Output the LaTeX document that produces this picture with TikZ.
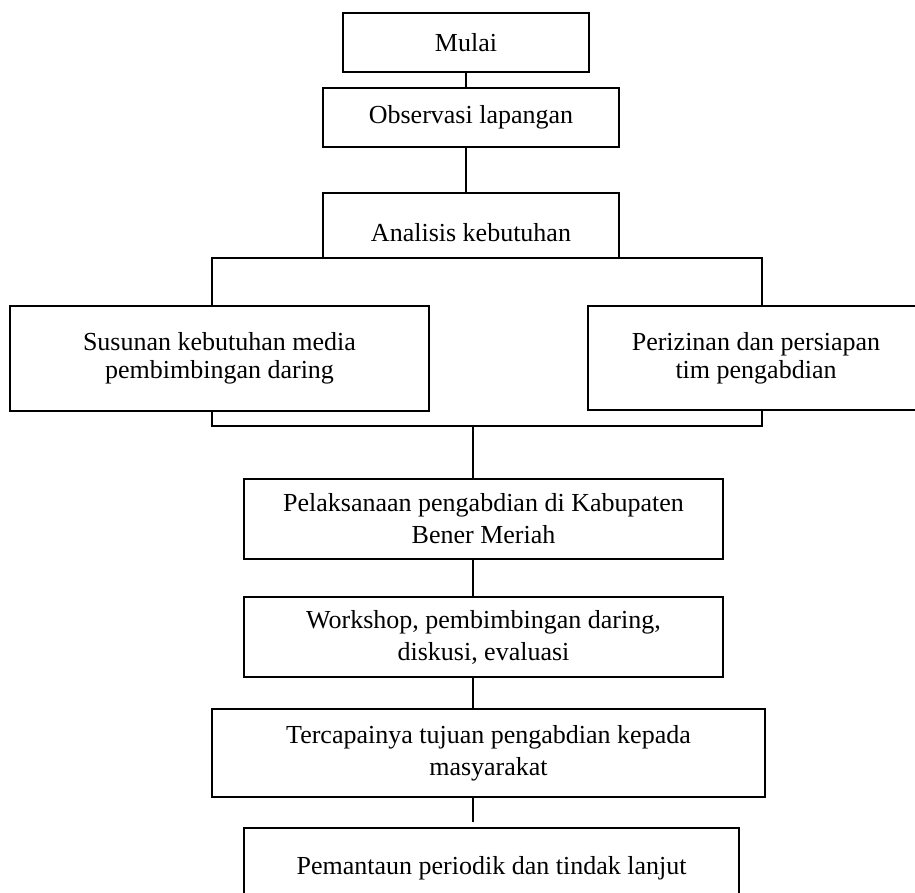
\documentclass[tikz,border=0pt]{standalone}
\usepackage{fontspec}
\setmainfont{Liberation Serif}
\usetikzlibrary{positioning}

\begin{document}
\begin{tikzpicture}[x=0.5pt, y=-0.5pt,
    kotak/.style = {shape = rectangle, draw = black, line width = 0.8pt, align = center, inner sep = 0pt,
                    font = \fontsize{13}{16}\selectfont},
    rapat/.style = {font = \fontsize{13}{14}\selectfont},
    garis/.style = {draw = black, line width = 0.7pt}]
    \useasboundingbox (0, 0) rectangle (915, 893);

    \node [kotak, minimum width = 123pt, minimum height = 29.5pt] (mulai) at (466, 42.5) {Mulai};
    \node [kotak, minimum width = 148pt, minimum height = 29.5pt] (observasi) at (471, 117.5) {Observasi lapangan};
    \node [kotak, minimum width = 148pt, minimum height = 32.5pt, text height = 16pt] (analisis) at (471, 225.5) {Analisis kebutuhan};
    \node [kotak, rapat, minimum width = 209.5pt, minimum height = 52.5pt] (susunan) at (219.5, 358.5) {Susunan kebutuhan media\\pembimbingan daring};
    \node [kotak, rapat, minimum width = 168pt, minimum height = 52pt] (perizinan) at (756, 358) {Perizinan dan persiapan\\tim pengabdian};
    \node [kotak, minimum width = 239.5pt, minimum height = 40pt] (pelaksanaan) at (483.5, 519) {Pelaksanaan pengabdian di Kabupaten\\Bener Meriah};
    \node [kotak, minimum width = 239.5pt, minimum height = 40pt] (workshop) at (483.5, 637) {Workshop, pembimbingan daring,\\diskusi, evaluasi};
    \node [kotak, minimum width = 276.5pt, minimum height = 44pt] (tercapai) at (488.5, 753) {Tercapainya tujuan pengabdian kepada\\masyarakat};
    \node [kotak, minimum width = 247.5pt, minimum height = 40pt] (pemantauan) at (491.5, 868) {Pemantaun periodik dan tindak lanjut};

    \coordinate (kiri) at (212, 258);
    \coordinate (kanan) at (762, 258);
    \coordinate (kiribawah) at (212, 426);
    \coordinate (kananbawah) at (762, 426);
    \coordinate (tengah) at (473, 426);

    \draw [garis] (mulai.south) -- (mulai.south |- observasi.north);
    \draw [garis] (observasi.south -| mulai.south) -- (mulai.south |- analisis.north);
    \draw [garis] (susunan.north -| kiri) -- (kiri) -- (kanan) -- (perizinan.north -| kanan);
    \draw [garis] (susunan.south -| kiribawah) -- (kiribawah) -- (kananbawah) -- (perizinan.south -| kananbawah);
    \draw [garis] (tengah) -- (tengah |- pelaksanaan.north);
    \draw [garis] (pelaksanaan.south -| tengah) -- (workshop.north -| tengah);
    \draw [garis] (workshop.south -| tengah) -- (tercapai.north -| tengah);
    \draw [garis] (tercapai.south -| tengah) -- ([yshift = 2.5pt] pemantauan.north -| tengah);
\end{tikzpicture}
\end{document}
